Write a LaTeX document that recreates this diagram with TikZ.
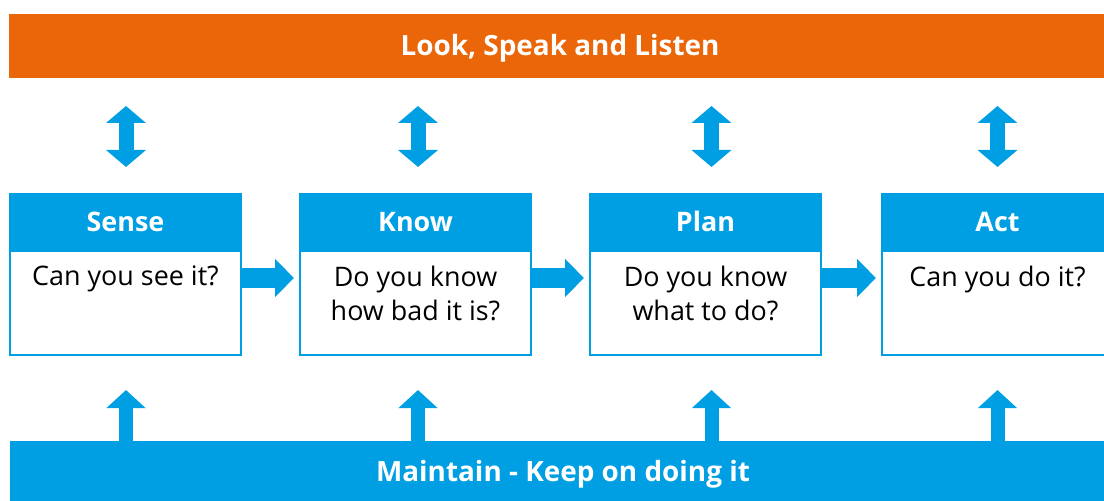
\documentclass[tikz,border=0pt]{standalone}
\usepackage{fontspec}
\setmainfont{Open Sans}
\usetikzlibrary{arrows.meta,positioning}
\definecolor{signalorange}{HTML}{EB6608}
\definecolor{signalblue}{HTML}{009FE3}
\tikzset{
  banner/.style={rectangle, inner sep=0pt, outer sep=0pt, text=white,
                 text height=20bp, text depth=0pt,
                 font=\fontsize{28}{33}\selectfont\bfseries},
  stagehead/.style={rectangle, fill=signalblue, draw=signalblue, line width=2bp,
                    minimum width=231bp, minimum height=56bp, inner sep=0pt,
                    text=white, text height=19.5bp, text depth=0pt,
                    font=\fontsize{27}{32}\selectfont\bfseries},
  stagebody/.style={rectangle, fill=white, draw=signalblue, line width=2bp,
                    minimum width=231bp, minimum height=104bp, inner sep=0pt},
  question/.style={align=center, inner sep=0pt, font=\fontsize{27}{34}\selectfont},
  fwd/.style={-{Triangle[length=19bp, width=37bp]}, line width=20bp, draw=signalblue},
  exchange/.style={{Triangle[length=17bp, width=39bp]}-{Triangle[length=17bp, width=39bp]},
                   line width=15bp, draw=signalblue},
  feed/.style={-{Triangle[length=18bp, width=38bp]}, line width=14bp, draw=signalblue},
}

\begin{document}
\begin{tikzpicture}[x=1bp, y=-1bp]
  \useasboundingbox (0,0) rectangle (1104,501);

  % top and bottom bands
  \node[banner, fill=signalorange, minimum width=1102bp, minimum height=64bp] (look) at (560,46) {Look, Speak and Listen};
  \node[banner, fill=signalblue, minimum width=1106bp, minimum height=61bp] (maintain) at (563,471.5) {Maintain - Keep on doing it};

  % the four stages, \d nudges the vertical arrows sideways
  \foreach \n/\x/\d/\h/\q in {sense/125.5/0.5/Sense/{Can you see it?},
                              know/415.5/2.5/Know/{Do you know\\how bad it is?},
                              plan/705.5/6/Plan/{Do you know\\what to do?},
                              act/997.5/0/Act/{Can you do it?}} {
    \node[stagehead] (\n-head) at (\x,222) {\h};
    \node[stagebody, anchor=north, yshift=1bp] (\n-body) at (\n-head.south) {};
    \node[question, anchor=north] (\n-q) at ([yshift=-16bp]\n-body.north) {\q};
    \draw[exchange, shorten <=28bp, shorten >=26bp]
      ([xshift=\d bp]\n-head.north |- look.south) -- ([xshift=\d bp]\n-head.north);
    \draw[feed, shorten >=34bp]
      ([xshift=\d bp]\n-body.south |- maintain.north) -- ([xshift=\d bp]\n-body.south);
  }

  \foreach \a/\b in {sense/know, know/plan, plan/act}
    \draw[fwd, shorten >=5bp] ([yshift=25bp]\a-body.east) -- ([yshift=25bp]\b-body.west);
\end{tikzpicture}
\end{document}
